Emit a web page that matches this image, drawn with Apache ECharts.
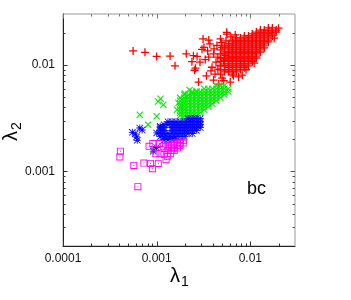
<!DOCTYPE html>
<html><head><meta charset="utf-8">
<script src="https://cdn.jsdelivr.net/npm/echarts@6/dist/echarts.min.js"></script>
<style>html,body{margin:0;padding:0;background:#fff}#c{width:351px;height:300px}</style>
</head><body><div id="c"></div>
<script>
// axis ranges and ticks
const X_MIN = 1e-4, X_MAX = 0.03, Y_MIN = 2e-4, Y_MAX = 0.03;
const xTickValues = [1e-4, 1e-3, 1e-2];
const xTickLabels = ['0.0001', '0.001', '0.01'];
const yTickValues = [1e-3, 1e-2];
const yTickLabels = ['0.001', '0.01'];
const xMinorTicks = [2e-4,3e-4,4e-4,5e-4,6e-4,7e-4,8e-4,9e-4,2e-3,3e-3,4e-3,5e-3,6e-3,7e-3,8e-3,9e-3,2e-2];
const yMinorTicks = [3e-4,4e-4,5e-4,6e-4,7e-4,8e-4,9e-4,2e-3,3e-3,4e-3,5e-3,6e-3,7e-3,8e-3,9e-3,2e-2];

// red (+)
const redSparse = [[5.6e-4,0.0135],[7.5e-4,0.0131],[1.0e-3,0.0120],[1.39e-3,0.0121],[1.57e-3,0.0098],
 [2.07e-3,0.0127],[2.38e-3,0.0107],[2.47e-3,0.0122],[2.54e-3,0.0089],[2.6e-3,0.0093],[2.7e-3,0.0120],[2.8e-3,0.0069],[2.9e-3,0.0106],
 [3.05e-3,0.0140],[3.13e-3,0.0175],[3.2e-3,0.0146],[3.4e-3,0.0079],[3.6e-3,0.0118],[3.6e-3,0.0171],[3.7e-3,0.0157],[3.9e-3,0.0095],
 [4.05e-3,0.0127],[4.05e-3,0.0072],[4.2e-3,0.0082],[4.3e-3,0.0106],[4.4e-3,0.0152],[4.6e-3,0.0066],[4.8e-3,0.0175],[4.8e-3,0.0099],
 [5.0e-3,0.0146],[5.0e-3,0.0075],[5.2e-3,0.0071],[5.2e-3,0.0110],[5.4e-3,0.0122],[5.6e-3,0.0202],[5.6e-3,0.0194],[6.1e-3,0.0069],[6.6e-3,0.0079],[7.5e-3,0.0077],
 [3.3e-3,0.0112],[3.5e-3,0.0135],[3.8e-3,0.0088],[4.1e-3,0.0141],[4.5e-3,0.0118],[4.5e-3,0.0091],[4.9e-3,0.0162],[5.5e-3,0.0168],
 [6.2e-3,0.0183],[6.9e-3,0.0191],[8.2e-3,0.0080],[9.0e-3,0.0090],[1.1e-2,0.0104],[2.0e-2,0.0221],[1.8e-2,0.0178]];
const redDenseCols = [
 [4.8e-3,[0.0138,0.0127,0.0116,0.0107,0.0098,0.0090,0.0082]],
 [5.3e-3,[0.0151,0.0144,0.0132,0.0127,0.0116,0.0111,0.0102,0.0098,0.0090,0.0086]],
 [5.85e-3,[0.0157,0.0151,0.0144,0.0138,0.0132,0.0127,0.0121,0.0116,0.0111,0.0107,0.0102,0.0098,0.0094,0.0090,0.0086]],
 [6.45e-3,[0.0171,0.0164,0.0157,0.0151,0.0144,0.0138,0.0132,0.0127,0.0121,0.0116,0.0111,0.0107,0.0102,0.0098,0.0094,0.0090,0.0086,0.0082]],
 [7.1e-3,[0.0179,0.0171,0.0164,0.0157,0.0151,0.0144,0.0138,0.0132,0.0127,0.0121,0.0116,0.0111,0.0107,0.0102,0.0098,0.0094,0.0090,0.0086]],
 [7.85e-3,[0.0179,0.0171,0.0164,0.0157,0.0151,0.0144,0.0138,0.0132,0.0127,0.0121,0.0116,0.0111,0.0107,0.0102,0.0098,0.0094,0.0090]],
 [8.65e-3,[0.0187,0.0179,0.0171,0.0164,0.0157,0.0151,0.0144,0.0138,0.0132,0.0127,0.0121,0.0116,0.0111,0.0107,0.0102,0.0098,0.0094]],
 [9.55e-3,[0.0187,0.0179,0.0171,0.0164,0.0157,0.0151,0.0144,0.0138,0.0132,0.0127,0.0121,0.0116,0.0111,0.0107,0.0102,0.0098]],
 [1.05e-2,[0.0195,0.0187,0.0179,0.0171,0.0164,0.0157,0.0151,0.0144,0.0138,0.0132,0.0127,0.0121,0.0116,0.0111,0.0107]],
 [1.16e-2,[0.0203,0.0195,0.0187,0.0179,0.0171,0.0164,0.0157,0.0151,0.0144,0.0138,0.0132,0.0127,0.0121,0.0116]],
 [1.28e-2,[0.0212,0.0203,0.0195,0.0187,0.0179,0.0171,0.0164,0.0157,0.0151,0.0144,0.0138,0.0132]],
 [1.41e-2,[0.0212,0.0203,0.0195,0.0187,0.0179,0.0171,0.0164,0.0157,0.0151,0.0144]],
 [1.56e-2,[0.0222,0.0212,0.0203,0.0195,0.0187,0.0179,0.0171,0.0164]],
 [1.72e-2,[0.0222,0.0212,0.0203,0.0195,0.0187]],
 [1.89e-2,[0.0212,0.0203]]
];
// green (x)
const greenSparse = [[6.6e-4,0.00341],[8.1e-4,0.00275],[1.0e-3,0.00329],[1.04e-3,0.00454],[1.1e-3,0.0048],[1.18e-3,0.00423],
 [9.2e-4,0.00160],[1.23e-3,0.0022],[1.71e-3,0.00439],[1.86e-3,0.00471],[1.86e-3,0.00408],[2.10e-3,0.00506],[2.38e-3,0.00544],[2.69e-3,0.00525],[2.69e-3,0.00563],
 [1.65e-3,0.00380],[2.0e-3,0.00540],[2.25e-3,0.00580]];
const greenDenseCols = [
 [1.78e-3,[0.00492,0.00461,0.00432,0.00405,0.00380,0.00356,0.00334]],
 [1.97e-3,[0.00525,0.00492,0.00461,0.00432,0.00405,0.00380,0.00356,0.00334,0.00313]],
 [2.17e-3,[0.00525,0.00492,0.00461,0.00432,0.00405,0.00380,0.00356,0.00334,0.00313]],
 [2.40e-3,[0.00560,0.00525,0.00492,0.00461,0.00432,0.00405,0.00380,0.00356,0.00334,0.00313]],
 [2.65e-3,[0.00560,0.00525,0.00492,0.00461,0.00432,0.00405,0.00380,0.00356,0.00334]],
 [2.92e-3,[0.00560,0.00525,0.00492,0.00461,0.00432,0.00405,0.00380,0.00356]],
 [3.22e-3,[0.00597,0.00560,0.00525,0.00492,0.00461,0.00432,0.00405,0.00380]],
 [3.56e-3,[0.00597,0.00560,0.00525,0.00492,0.00461,0.00432,0.00405]],
 [3.93e-3,[0.00597,0.00560,0.00525,0.00492,0.00461,0.00432]],
 [4.33e-3,[0.00637,0.00597,0.00560,0.00525,0.00492,0.00461]],
 [4.79e-3,[0.00637,0.00597,0.00560,0.00525,0.00492]],
 [5.28e-3,[0.00637,0.00597,0.00560,0.00525]],
 [5.82e-3,[0.00597,0.00560]]
];
// blue (*)
const blueSparse = [[5.5e-4,0.00233],[6.6e-4,0.00256],[6.1e-4,0.00211],[6.2e-4,0.00196],[7.0e-4,0.00245],[5.9e-4,0.00225],
 [1.0e-3,0.00168],[9.2e-4,0.00155],[1.0e-3,0.00230],[1.09e-3,0.00265]];
const blueDenseCols = [
 [1.09e-3,[0.00258,0.00242,0.00227,0.00212]],
 [1.20e-3,[0.00275,0.00258,0.00242,0.00227,0.00212,0.00199]],
 [1.32e-3,[0.00293,0.00275,0.00227,0.00212,0.00199]],
 [1.46e-3,[0.00293,0.00275,0.00258,0.00242,0.00227,0.00212,0.00199]],
 [1.61e-3,[0.00293,0.00275,0.00258,0.00242,0.00227,0.00212,0.00199]],
 [1.78e-3,[0.00293,0.00275,0.00258,0.00242,0.00227,0.00212]],
 [1.97e-3,[0.00293,0.00275,0.00258,0.00242,0.00227,0.00212]],
 [2.17e-3,[0.00313,0.00293,0.00275,0.00258,0.00242,0.00227]],
 [2.40e-3,[0.00313,0.00293,0.00275,0.00258,0.00242,0.00227]],
 [2.65e-3,[0.00313,0.00293,0.00275,0.00258,0.00242]],
 [2.92e-3,[0.00313,0.00293,0.00275,0.00258]]
];
// magenta (boxes)
const magentaSparse = [[4.1e-4,0.00155],[4.05e-4,0.00137],[5.7e-4,0.00114],[7.3e-4,0.00120],[8.6e-4,0.00119],[9.0e-4,0.00106],
 [1.04e-3,0.00119],[6.3e-4,0.00072],[8.3e-4,0.00172],[9.1e-4,0.00183],[1.07e-3,0.00183],[1.18e-3,0.00172],[1.09e-3,0.00147],
 [1.2e-3,0.00144],[1.3e-3,0.00139],[1.41e-3,0.00147],[1.26e-3,0.00129],[1.33e-3,0.00172],[9.8e-4,0.00147]];
const magentaDenseCols = [
 [1.32e-3,[0.00166,0.00157]],
 [1.43e-3,[0.00175,0.00166,0.00157]],
 [1.54e-3,[0.00185,0.00175,0.00166,0.00157]],
 [1.66e-3,[0.00185,0.00175,0.00166]],
 [1.78e-3,[0.00195,0.00185,0.00175]],
 [1.92e-3,[0.00195,0.00185]]
];

function flat(cols){ const out=[]; cols.forEach(c=>c[1].forEach(y=>out.push([c[0],y]))); return out; }

const PLUS = 'path://M4.2,0H5.8V4.2H10V5.8H5.8V10H4.2V5.8H0V4.2H4.2Z';
const CROSS = 'path://M0,1.1L1.1,0L5,3.9L8.9,0L10,1.1L6.1,5L10,8.9L8.9,10L5,6.1L1.1,10L0,8.9L3.9,5Z';
const STAR = 'path://M4.4,0H5.6V10H4.4Z M0,4.4H10V5.6H0Z M0,0.8L0.8,0L10,9.2L9.2,10Z M9.2,0L10,0.8L0.8,10L0,9.2Z';
const BOX = 'path://M0,0H10V10H0Z M1.3,1.3V8.7H8.7V1.3Z M4.3,4.3H5.7V5.7H4.3Z';

function sc(data, symbol, size, color){
  return {type:'scatter', data, symbol, symbolSize:size, silent:true, animation:false,
    itemStyle:{color, opacity:1}, emphasis:{disabled:true}};
}
function crisp(v){ return Math.round(v) + 0.5; }
function xTicks(vals, L){
  return {type:'custom', silent:true, animation:false, clip:false, z:5,
    data: vals.map(v=>[v, Y_MIN]),
    renderItem:(p, api)=>{
      const v = api.value(0);
      const b = api.coord([v, Y_MIN]), t = api.coord([v, Y_MAX]);
      const x = crisp(b[0]);
      return {type:'group', children:[
        {type:'line', shape:{x1:x,y1:b[1],x2:x,y2:b[1]-L}, style:{stroke:'#333',lineWidth:1}},
        {type:'line', shape:{x1:x,y1:t[1],x2:x,y2:t[1]+L}, style:{stroke:'#777',lineWidth:1}}
      ]};
    }};
}
function yTicks(vals, L){
  return {type:'custom', silent:true, animation:false, clip:false, z:5,
    data: vals.map(v=>[X_MIN, v]),
    renderItem:(p, api)=>{
      const v = api.value(1);
      const l = api.coord([X_MIN, v]), r = api.coord([X_MAX, v]);
      const y = crisp(l[1]);
      return {type:'group', children:[
        {type:'line', shape:{x1:l[0],y1:y,x2:l[0]+L,y2:y}, style:{stroke:'#333',lineWidth:1}},
        {type:'line', shape:{x1:r[0],y1:y,x2:r[0]-L,y2:y}, style:{stroke:'#555',lineWidth:1}}
      ]};
    }};
}
function labelFor(vals, labels){
  return v => { for (let i=0;i<vals.length;i++){ if (Math.abs(v/vals[i]-1)<1e-6) return labels[i]; } return ''; };
}

const chart = echarts.init(document.getElementById('c'), null, {renderer:'canvas'});
const FONT = 'Liberation Sans';
chart.setOption({
  backgroundColor:'#fff',
  animation:false,
  grid:{left:63, top:14, right:56, bottom:54, show:true, borderColor:'#999', borderWidth:1, backgroundColor:'transparent'},
  xAxis:{type:'log', logBase:10, min:X_MIN, max:X_MAX,
    axisLine:{show:true, lineStyle:{color:'#222', width:1}},
    axisTick:{show:false}, splitLine:{show:false}, minorTick:{show:false},
    axisLabel:{interval:0, margin:7, color:'#111', fontSize:12, fontFamily:FONT, formatter:labelFor(xTickValues, xTickLabels)}},
  yAxis:{type:'log', logBase:10, min:Y_MIN, max:Y_MAX,
    axisLine:{show:true, lineStyle:{color:'#222', width:1}},
    axisTick:{show:false}, splitLine:{show:false}, minorTick:{show:false},
    axisLabel:{interval:0, margin:8, color:'#111', fontSize:12, fontFamily:FONT, formatter:labelFor(yTickValues, yTickLabels)}},
  series:[
    sc(redSparse, PLUS, 8, '#ff0000'),
    sc(flat(redDenseCols), PLUS, 8, '#ff0000'),
    sc(greenSparse, CROSS, 7, '#00ee00'),
    sc(flat(greenDenseCols), CROSS, 7, '#00ee00'),
    sc(blueSparse, STAR, 7, '#0000ff'),
    sc(flat(blueDenseCols), STAR, 7, '#0000ff'),
    sc(magentaSparse, BOX, 7, '#ff00ff'),
    sc(flat(magentaDenseCols), BOX, 7, '#ff00ff'),
    xTicks(xTickValues, 4.5), xTicks(xMinorTicks, 2.5),
    yTicks(yTickValues, 4.5), yTicks(yMinorTicks, 2.5)
  ],
  graphic:[
    {type:'text', x:247, y:180, silent:true, style:{text:'bc', font:'18px "Liberation Sans"', fill:'#000'}},
    {type:'group', x:170, y:266.5, silent:true, children:[
      {type:'text', x:0, y:0, style:{text:'λ', font:'20px "Liberation Sans"', fill:'#000'}},
      {type:'text', x:11, y:8.7, style:{text:'1', font:'14px "Liberation Sans"', fill:'#000'}}
    ]},
    {type:'group', x:1, y:141, rotation:Math.PI/2, silent:true, children:[
      {type:'text', x:0, y:0, style:{text:'λ', font:'20px "Liberation Sans"', fill:'#000'}},
      {type:'text', x:11, y:8.7, style:{text:'2', font:'14px "Liberation Sans"', fill:'#000'}}
    ]}
  ]
});
</script></body></html>
